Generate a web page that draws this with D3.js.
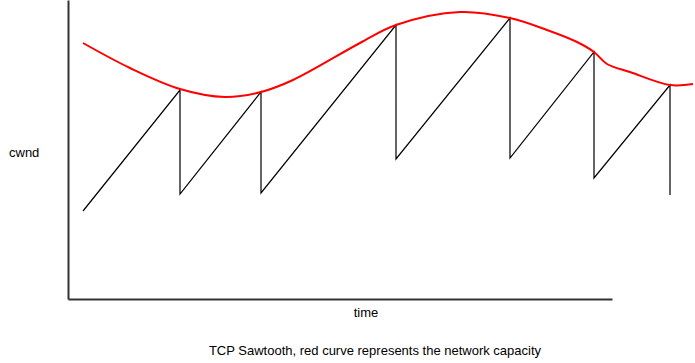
<!DOCTYPE html>
<html>
<head>
<meta charset="utf-8">
<script src="https://cdn.jsdelivr.net/npm/d3@7"></script>
<style>
  body { margin: 0; background: #fff; }
  text { font-family: "Liberation Sans", Arial, sans-serif; font-size: 13px; fill: #000; }
</style>
</head>
<body>
<div id="chart"></div>
<script>
var width = 695;
var height = 363;

// sawtooth (cwnd) corner points: time, cwnd
var sawTime = [15, 112, 112, 193, 193, 328, 328, 442, 442, 526, 526, 602, 602];
var sawCwnd = [88, 209, 105, 207, 106, 274, 140, 281, 141, 247, 121, 214, 104];

// network capacity curve
var capTime = [15, 62, 112, 157, 193, 225, 292, 328, 392, 442, 479, 509, 526, 539, 562, 602, 625];
var capVal  = [256, 231, 210, 202, 207, 219, 256, 274, 287, 281, 269, 257, 247, 235, 227, 214, 215];

var margin = {top: 0, right: 83, bottom: 64, left: 68};

var x = d3.scaleLinear()
    .domain([0, 544])
    .range([margin.left, width - margin.right]);

var y = d3.scaleLinear()
    .domain([0, 299])
    .range([height - margin.bottom, margin.top]);

var svg = d3.select("#chart").append("svg")
    .attr("width", width)
    .attr("height", height);

var saw = sawTime.map((t, i) => [t, sawCwnd[i]]);
var cap = capTime.map((t, i) => [t, capVal[i]]);

svg.append("path")
    .datum(saw)
    .attr("fill", "none")
    .attr("stroke", "#000")
    .attr("stroke-width", 1.2)
    .attr("d", d3.line().x(d => x(d[0])).y(d => y(d[1])));

svg.append("path")
    .datum(cap)
    .attr("fill", "none")
    .attr("stroke", "#ff0000")
    .attr("stroke-width", 2)
    .attr("d", d3.line().curve(d3.curveCatmullRom).x(d => x(d[0])).y(d => y(d[1])));

// axes: plain lines, no ticks
svg.append("g")
    .attr("transform", `translate(0,${y(0)})`)
    .call(d3.axisBottom(x).tickValues([]).tickSizeOuter(0))
    .call(g => g.select(".domain").attr("stroke", "#333").attr("stroke-width", 2));

svg.append("g")
    .attr("transform", `translate(${x(0)},0)`)
    .call(d3.axisLeft(y).tickValues([]).tickSizeOuter(0))
    .call(g => g.select(".domain").attr("stroke", "#333").attr("stroke-width", 2));

svg.append("text")
    .attr("x", 9)
    .attr("y", 157)
    .text("cwnd");

svg.append("text")
    .attr("x", 366)
    .attr("y", 317)
    .attr("text-anchor", "middle")
    .text("time");

svg.append("text")
    .attr("x", 375)
    .attr("y", 355)
    .attr("text-anchor", "middle")
    .text("TCP Sawtooth, red curve represents the network capacity");
</script>
</body>
</html>
